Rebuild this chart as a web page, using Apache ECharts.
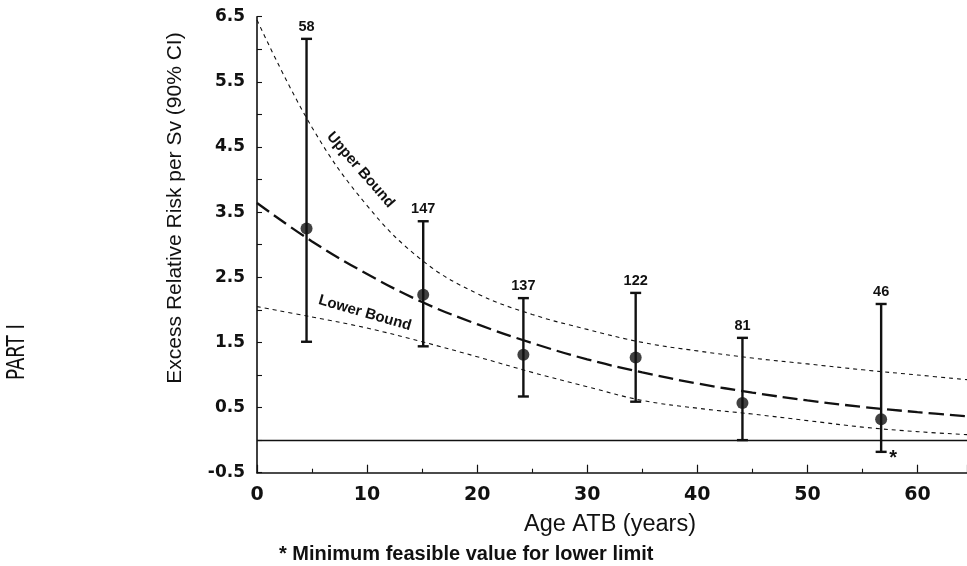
<!DOCTYPE html>
<html><head><meta charset="utf-8">
<script src="https://cdn.jsdelivr.net/npm/echarts@6/dist/echarts.min.js"></script>
<style>html,body{margin:0;padding:0;background:#fff}#c{width:967px;height:566px}</style>
</head><body><div id="c"></div>
<script>
// Observed points (age at time of bombing, ERR per Sv with 90% CI, number of cases)
const ages = [4.5, 15.1, 24.2, 34.4, 44.1, 56.7];
const err = [3.25, 2.23, 1.31, 1.27, 0.57, 0.32];
const ciLow = [1.51, 1.44, 0.67, 0.59, 0.0, -0.18];
const ciHigh = [6.16, 3.36, 2.18, 2.26, 1.57, 2.09];
const cases = ['58', '147', '137', '122', '81', '46'];
const minFeasible = [false, false, false, false, false, true];

// Curves
const curveAges = [0, 5, 10, 15, 20, 25, 30, 35, 40, 45, 50, 55, 60, 65];
const fitted = [3.64, 3.05, 2.55, 2.12, 1.78, 1.49, 1.24, 1.04, 0.87, 0.73, 0.61, 0.51, 0.43, 0.36];
const upperBound = [6.45, 4.80, 3.60, 2.76, 2.25, 1.93, 1.70, 1.50, 1.37, 1.26, 1.17, 1.08, 1.00, 0.92];
const lowerBound = [2.05, 1.89, 1.72, 1.51, 1.28, 1.04, 0.82, 0.61, 0.49, 0.40, 0.30, 0.20, 0.13, 0.08];

const xTickLabels = ['0', '10', '20', '30', '40', '50', '60'];
const yTickLabels = ['-0.5', '0.5', '1.5', '2.5', '3.5', '4.5', '5.5', '6.5'];

const INK = '#111';
const chart = echarts.init(document.getElementById('c'), null, {renderer: 'canvas'});

const pair = (xs, ys) => xs.map((x, i) => [x, ys[i]]);

chart.setOption({
  animation: false,
  backgroundColor: '#fff',
  grid: {left: 257, right: 0, top: 16.7, bottom: 93.3, containLabel: false},
  xAxis: {
    type: 'value', min: 0, max: 64.5, interval: 10,
    axisLine: {show: true, onZero: false, lineStyle: {color: INK, width: 1.6}},
    axisTick: {show: true, inside: true, length: 8, lineStyle: {color: INK, width: 1.2}},
    minorTick: {show: true, splitNumber: 2, length: 4, lineStyle: {color: INK, width: 1.1}},
    splitLine: {show: false}, minorSplitLine: {show: false},
    axisLabel: {
      margin: 13, color: INK, fontFamily: 'DejaVu Sans', fontWeight: 'bold', fontSize: 19,
      showMaxLabel: false,
      formatter: v => { const s = String(Math.round(v)); return (Math.abs(v - Math.round(v)) < 1e-6 && xTickLabels.includes(s)) ? s : ''; }
    }
  },
  yAxis: {
    type: 'value', min: -0.5, max: 6.5, interval: 0.5,
    axisLine: {show: true, onZero: false, lineStyle: {color: INK, width: 1.6}},
    axisTick: {show: true, inside: true, length: 5, lineStyle: {color: INK, width: 1.1}},
    splitLine: {show: false},
    axisLabel: {
      margin: 12, color: INK, fontFamily: 'DejaVu Sans', fontWeight: 'bold', fontSize: 17,
      formatter: v => { const s = (Math.round(v * 2) / 2).toFixed(1); return yTickLabels.includes(s) ? s : ''; }
    }
  },
  series: [
    {
      name: 'Upper Bound', type: 'line', data: pair(curveAges, upperBound), smooth: 0.4,
      symbol: 'none', clip: true,
      lineStyle: {color: INK, width: 1.1, type: [4, 4]},
      markPoint: {
        symbol: 'circle', symbolSize: 0, silent: true,
        data: [{coord: [9.4, 4.15], value: 'Upper Bound'}],
        label: {show: true, position: 'inside', formatter: 'Upper Bound', rotate: -49,
          color: INK, fontFamily: 'Liberation Sans', fontWeight: 'bold', fontSize: 15}
      }
    },
    {
      name: 'Lower Bound', type: 'line', data: pair(curveAges, lowerBound), smooth: 0.4,
      symbol: 'none', clip: true,
      lineStyle: {color: INK, width: 1.1, type: [4, 4]},
      markPoint: {
        symbol: 'circle', symbolSize: 0, silent: true,
        data: [{coord: [9.8, 1.95], value: 'Lower Bound'}],
        label: {show: true, position: 'inside', formatter: 'Lower Bound', rotate: -16,
          color: INK, fontFamily: 'Liberation Sans', fontWeight: 'bold', fontSize: 15}
      }
    },
    {
      name: 'Fitted', type: 'line', data: pair(curveAges, fitted), smooth: 0.4,
      symbol: 'none', clip: true,
      lineStyle: {color: INK, width: 2.3, type: [15, 6]},
      markLine: {
        silent: true, symbol: 'none', label: {show: false},
        lineStyle: {color: INK, width: 1.3, type: 'solid'},
        data: [{yAxis: 0}]
      }
    },
    {
      name: 'CI', type: 'custom',
      data: ages.map((a, i) => [a, ciLow[i], ciHigh[i], i]),
      renderItem: (params, api) => {
        const x = api.value(0), lo = api.value(1), hi = api.value(2), i = api.value(3);
        const pLo = api.coord([x, lo]), pHi = api.coord([x, hi]);
        const cw = 5.5;
        const st = {stroke: INK, lineWidth: 2.4};
        const ch = [
          {type: 'line', shape: {x1: pLo[0], y1: pLo[1], x2: pHi[0], y2: pHi[1]}, style: st},
          {type: 'line', shape: {x1: pHi[0] - cw, y1: pHi[1], x2: pHi[0] + cw, y2: pHi[1]}, style: st},
          {type: 'line', shape: {x1: pLo[0] - cw, y1: pLo[1], x2: pLo[0] + cw, y2: pLo[1]}, style: st},
          {type: 'text', x: pHi[0], y: pHi[1] - 12,
            style: {text: cases[i], align: 'center', verticalAlign: 'middle',
              font: 'bold 14.5px "Liberation Sans", Arial, sans-serif', fill: INK}}
        ];
        if (minFeasible[i]) {
          ch.push({type: 'text', x: pLo[0] + 12, y: pLo[1] + 7,
            style: {text: '*', align: 'center', verticalAlign: 'middle',
              font: 'bold 20px "Liberation Sans", Arial, sans-serif', fill: INK}});
        }
        return {type: 'group', children: ch};
      },
      z: 3
    },
    {
      name: 'ERR', type: 'scatter', data: pair(ages, err),
      symbol: 'circle', symbolSize: 12, itemStyle: {color: INK}, z: 4
    }
  ],
  graphic: [
    {type: 'text', x: 175, y: 208, rotation: Math.PI / 2,
      style: {text: 'Excess Relative Risk per Sv (90% CI)', align: 'center', verticalAlign: 'middle',
        font: '21px "Liberation Sans", Arial, sans-serif', fill: INK}},
    {type: 'text', x: 610, y: 525,
      style: {text: 'Age ATB (years)', align: 'center', verticalAlign: 'middle',
        font: '23.5px "Liberation Sans", Arial, sans-serif', fill: INK}},
    {type: 'text', x: 279, y: 554,
      style: {text: '* Minimum feasible value for lower limit', align: 'left', verticalAlign: 'middle',
        font: 'bold 20px "Liberation Sans", Arial, sans-serif', fill: INK}},
    {type: 'text', x: 17.5, y: 352, rotation: Math.PI / 2, scaleX: 0.85,
      style: {text: 'PART I', align: 'center', verticalAlign: 'middle',
        font: '24px "Liberation Sans Narrow", "DejaVu Sans Condensed", "Liberation Sans", sans-serif', fill: INK}}
  ]
});
</script>
</body></html>
